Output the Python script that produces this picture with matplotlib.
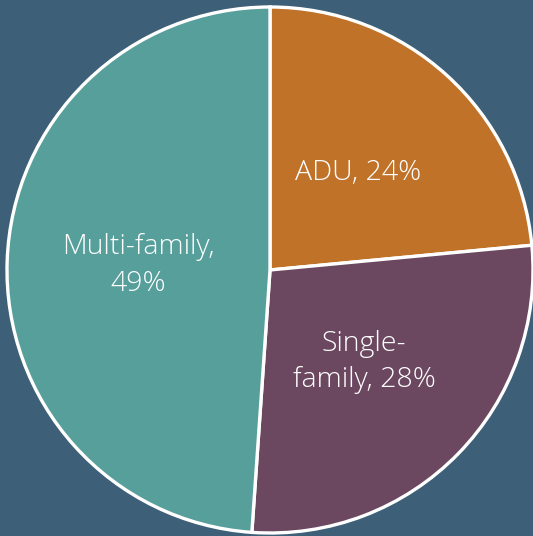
import matplotlib.pyplot as plt

# housing type shares
categories = ["ADU", "Single-\nfamily", "Multi-family,\n"]
shares = [23.5, 27.6, 48.9]
pct_labels = ["24%", "28%", "49%"]
colors = ["#c07229", "#6b4860", "#579f9b"]
bg = "#3d5f78"

labels = []
for c, p in zip(categories, pct_labels):
    if c.endswith("\n"):
        labels.append(c + p)
    else:
        labels.append(c + ", " + p)

fig = plt.figure(figsize=(5.33, 5.36), dpi=100, facecolor=bg)
ax = fig.add_axes([7 / 533, 3 / 536, 526 / 533, 526 / 536])
ax.set_facecolor(bg)

wedges, texts = ax.pie(shares, labels=labels, colors=colors, startangle=90,
                       counterclock=False, labeldistance=0.5, radius=1,
                       wedgeprops=dict(edgecolor="white", linewidth=2.4),
                       textprops=dict(color="white", fontsize=20.5, family="Open Sans",
                                      fontweight="light", linespacing=1.4,
                                      ha="center", va="center", multialignment="center"))

ax.set_xlim(-1.0, 1.0)
ax.set_ylim(-1.0, 1.0)
ax.set_aspect("equal")
ax.axis("off")

fig.savefig("out.png", dpi=100, facecolor=bg)
